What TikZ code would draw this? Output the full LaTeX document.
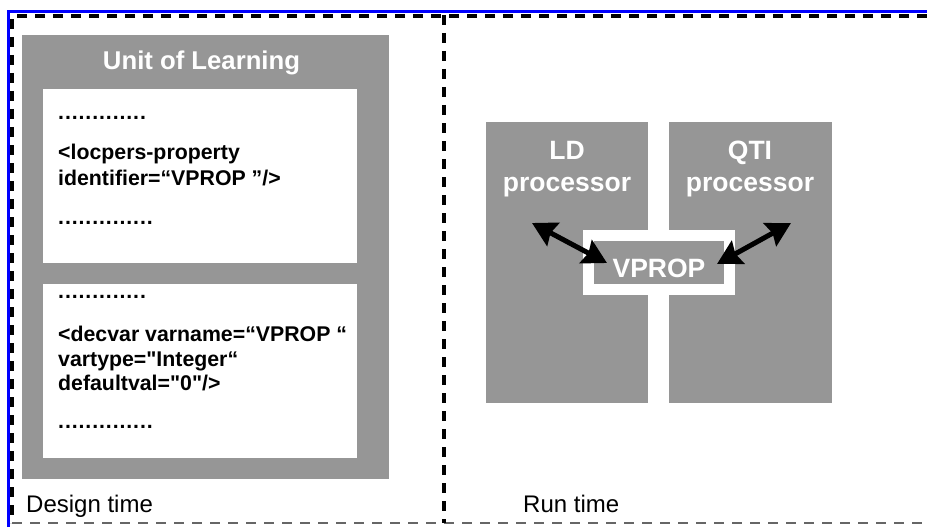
\documentclass[tikz,border=0pt]{standalone}
\usepackage{fontspec}
\setmainfont{Liberation Sans}[Ligatures=TeXOff]
\usetikzlibrary{arrows.meta}
\usetikzlibrary{calc}

\definecolor{boxgrey}{HTML}{969696}
\definecolor{selblue}{HTML}{0000FF}

\newcommand{\codedots}[1]{\foreach \d in {1,...,#1}{.\kern0.9pt}}

\begin{document}
\begin{tikzpicture}[x=1pt,y=-1pt,
    greybox/.style={fill=boxgrey,inner sep=0pt,outer sep=0pt,anchor=north west},
    whitebox/.style={fill=white,inner sep=0pt,outer sep=0pt,anchor=north west},
    code/.style={anchor=base west,inner sep=0pt,text=black,font=\fontsize{21.3}{26}\selectfont\bfseries},
    head/.style={anchor=base,inner sep=0pt,text=white,font=\fontsize{26.5}{32}\selectfont\bfseries},
    phase/.style={anchor=base west,inner sep=0pt,font=\fontsize{24}{28}\selectfont},
    sep/.style={draw,line width=3.4pt,dash pattern=on 10pt off 8pt},
    link/.style={draw,line width=5pt,{Stealth[length=24pt,width=26pt,inset=3pt]}-{Stealth[length=24pt,width=26pt,inset=3pt]}}]

  \useasboundingbox (0,0) rectangle (927,527);

  % frame
  \draw [sep] (927,16) -- (12,16) -- (12,523);
  \draw [sep,black!60,line width=2.8pt] (12,523) -- (927,523);
  \draw [sep] (444,15) -- (444,523);
  \draw [selblue,line width=3pt] (927,12) -- (8.5,12) -- (8.5,527);

  % design time
  \node [greybox,minimum width=367pt,minimum height=444pt] (uol) at (22,35) {};
  \node [head,font=\fontsize{25.7}{30}\selectfont\bfseries] (uoltitle) at (201.5,70) {Unit of Learning};

  \node [whitebox,minimum width=314pt,minimum height=174pt] (propbox) at (43,89) {};
  \node [code] (propdotsa) at (58,119) {\codedots{13}};
  \node [code] (propa) at (58,159) {<locpers-property};
  \node [code] (propb) at (58,185) {identifier=“VPROP ”/>};
  \node [code] (propdotsb) at (58,224) {\codedots{14}};

  \node [whitebox,minimum width=314pt,minimum height=174pt] (varbox) at (43,284) {};
  \node [code] (vardotsa) at (58,298) {\codedots{13}};
  \node [code] (vara) at (58,341) {<decvar varname=“VPROP “};
  \node [code] (varb) at (58,366) {vartype="Integer“};
  \node [code] (varc) at (58,390) {defaultval="0"/>};
  \node [code] (vardotsb) at (58,428) {\codedots{14}};

  \node [phase] (designlabel) at (26,512) {Design time};

  % run time
  \node [greybox,minimum width=162pt,minimum height=281pt] (ld) at (486,122) {};
  \node [greybox,minimum width=163pt,minimum height=281pt] (qti) at (669,122) {};
  \node [head] (ldname) at (567,159) {LD};
  \node [head] (ldrole) at (567,191) {processor};
  \node [head] (qtiname) at (750,159) {QTI};
  \node [head] (qtirole) at (750,191) {processor};

  \node [whitebox,minimum width=152pt,minimum height=65pt] (vpropframe) at (583,230) {};
  \node [greybox,minimum width=130pt,minimum height=43pt] (vprop) at (594,241) {};
  \node [head] (vproplabel) at (659,277) {VPROP};

  \coordinate (ldport) at (532,223);
  \coordinate (qtiport) at (791,223);

  \draw [link] (ldport) -- ([xshift=13pt,yshift=-0.5pt]vprop.west);
  \draw [link] ([xshift=-7pt,yshift=-1.5pt]vprop.east) -- (qtiport);

  \node [phase] (runlabel) at (523,512) {Run time};

\end{tikzpicture}
\end{document}
